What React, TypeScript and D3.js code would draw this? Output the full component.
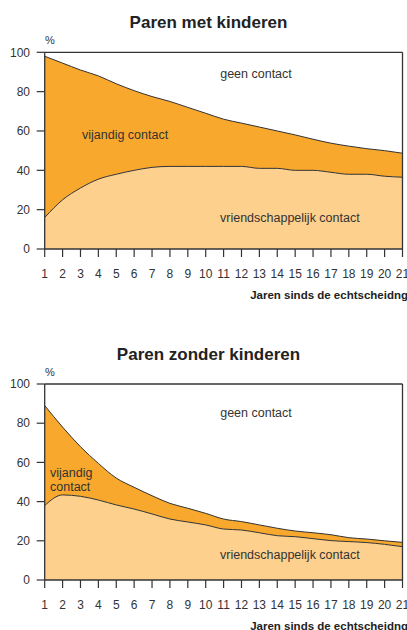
import React from 'react'
import * as d3 from 'd3'

const years = [1, 2, 3, 4, 5, 6, 7, 8, 9, 10, 11, 12, 13, 14, 15, 16, 17, 18, 19, 20, 21]
const yTicks = [0, 20, 40, 60, 80, 100]

// totaal = vriendschappelijk + vijandig, rest is geen contact
const metTotaal = [98, 94.5, 91, 88, 84, 80.5, 77.5, 75, 72, 69, 66, 64, 62, 60, 58, 55.8, 53.8, 52.3, 51, 50, 48.7]
const metVriend = [16, 25, 31, 35.5, 38, 40, 41.5, 42, 42, 42, 42, 42, 41, 41, 40, 40, 39, 38, 38, 37, 36.5]
const zonderTotaal = [89, 78, 68, 59.5, 52, 47.3, 43, 39.1, 36.6, 34, 31.1, 29.8, 28.1, 26.4, 25, 24.1, 23.1, 21.6, 20.9, 20, 19.2]
const zonderVriend = [38, 43.4, 42.7, 40.8, 38.3, 36.2, 33.7, 31.1, 29.6, 28.1, 26, 25.5, 24.1, 22.6, 22.1, 21.1, 20.1, 19.6, 19.1, 18.2, 17]

const darkOrange = '#f7a82d'
const lightOrange = '#fdd08e'
const ink = '#333333'
const font = '"Liberation Sans", Arial, sans-serif'

type PanelProps = {
  title: string
  totaal: number[]
  vriend: number[]
  top: number
  bottom: number
  geenAt: number
  vriendAt: number
  twoLineVijandig?: boolean
}

function Panel({ title, totaal, vriend, top, bottom, geenAt, vriendAt, twoLineVijandig }: PanelProps) {
  const x = d3.scaleLinear().domain([1, 21]).range([44.7, 402.5])
  const y = d3.scaleLinear().domain([0, 100]).range([bottom, top])
  const curve = d3.curveMonotoneX

  const rows = years.map((yr, i) => ({ yr, t: totaal[i], v: vriend[i] }))

  const vriendArea = d3.area<any>().x(d => x(d.yr)).y0(y(0)).y1(d => y(d.v)).curve(curve)
  const vijandArea = d3.area<any>().x(d => x(d.yr)).y0(d => y(d.v)).y1(d => y(d.t)).curve(curve)
  const vriendLine = d3.line<any>().x(d => x(d.yr)).y(d => y(d.v)).curve(curve)
  const totaalLine = d3.line<any>().x(d => x(d.yr)).y(d => y(d.t)).curve(curve)

  const x0 = x(1)
  const x1 = x(21)

  return (
    <g>
      <text x={208.5} y={top - 24} textAnchor="middle" fontFamily={font} fontWeight="bold" fontSize={17} fill="#222">{title}</text>
      <text x={45} y={top - 8} fontFamily={font} fontSize={11} fill={ink}>%</text>

      <path d={vriendArea(rows) || ''} fill={lightOrange} />
      <path d={vijandArea(rows) || ''} fill={darkOrange} />
      <path d={vriendLine(rows) || ''} fill="none" stroke={ink} strokeWidth={1} />
      <path d={totaalLine(rows) || ''} fill="none" stroke={ink} strokeWidth={1} />

      {/* kader */}
      <line x1={x0} x2={x1} y1={y(100)} y2={y(100)} stroke={ink} strokeWidth={1.3} />
      <line x1={x1} x2={x1} y1={y(100)} y2={y(0)} stroke={ink} strokeWidth={1.3} />
      <line x1={x0} x2={x0} y1={y(100)} y2={y(0)} stroke={ink} strokeWidth={1.3} />
      <line x1={x0} x2={x1} y1={y(0)} y2={y(0)} stroke={ink} strokeWidth={1.3} />

      {yTicks.map(t => (
        <g key={t}>
          <line x1={x0 - 8} x2={x0} y1={y(t)} y2={y(t)} stroke={ink} strokeWidth={1.2} />
          <text x={30} y={y(t)} dy="0.35em" textAnchor="end" fontFamily={font} fontSize={12} fill={ink}>{t}</text>
        </g>
      ))}
      {years.map(yr => (
        <g key={yr}>
          <line x1={x(yr)} x2={x(yr)} y1={y(0)} y2={y(0) + 8} stroke={ink} strokeWidth={1.2} />
          <text x={x(yr)} y={y(0) + 25} dy="0.35em" textAnchor="middle" fontFamily={font} fontSize={12} fill={ink}>{yr}</text>
        </g>
      ))}
      <text x={408} y={y(0) + 46} dy="0.35em" textAnchor="end" fontFamily={font} fontWeight="bold" fontSize={11.5} fill="#222">Jaren sinds de echtscheidng</text>

      <text x={256} y={y(geenAt)} dy="0.35em" textAnchor="middle" fontFamily={font} fontSize={12.5} fill={ink}>geen contact</text>
      {twoLineVijandig ? (
        <text x={50} y={y(55)} fontFamily={font} fontSize={12.5} fill={ink}>
          <tspan x={50} dy="0.35em">vijandig</tspan>
          <tspan x={50} dy="1.15em">contact</tspan>
        </text>
      ) : (
        <text x={82} y={y(58)} dy="0.35em" fontFamily={font} fontSize={12.5} fill={ink}>vijandig contact</text>
      )}
      <text x={220} y={y(vriendAt)} dy="0.35em" fontFamily={font} fontSize={12.5} fill={ink}>vriendschappelijk contact</text>
    </g>
  )
}

export default function App() {
  return (
    <svg width={407} height={630} style={{ position: 'absolute', left: 0, top: 0, background: '#fff' }}>
      <Panel title="Paren met kinderen" totaal={metTotaal} vriend={metVriend} top={52.3} bottom={249} geenAt={89.3} vriendAt={16} />
      <Panel title="Paren zonder kinderen" totaal={zonderTotaal} vriend={zonderVriend} top={384} bottom={580} geenAt={85.2} vriendAt={12.8} twoLineVijandig />
    </svg>
  )
}
